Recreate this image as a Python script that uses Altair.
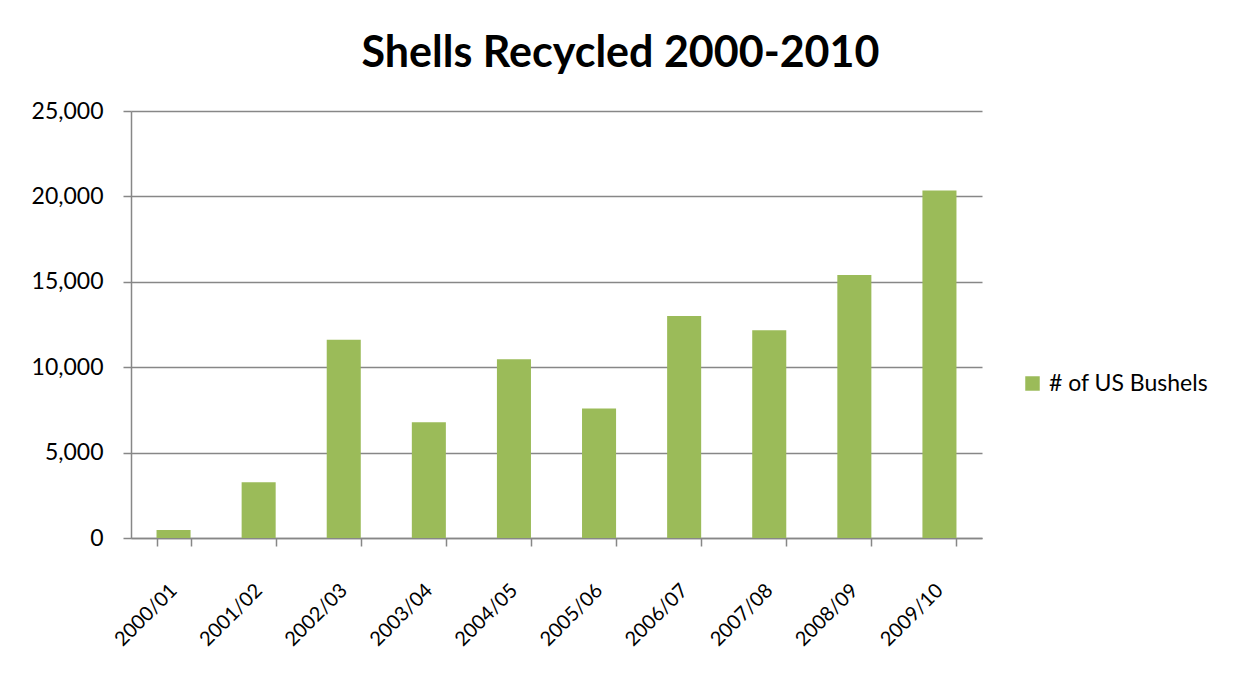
import altair as alt
import pandas as pd

seasons = ["2000/01", "2001/02", "2002/03", "2003/04", "2004/05",
           "2005/06", "2006/07", "2007/08", "2008/09", "2009/10"]
bushels = [470, 3260, 11600, 6780, 10470, 7580, 13000, 12170, 15400, 20350]
series_name = "# of US Bushels"
y_ticks = [0, 5000, 10000, 15000, 20000, 25000]

df = pd.DataFrame({"season": seasons, "value": bushels, "series": [series_name] * len(seasons)})

FONT = "Lato"
GRID = "#878787"
FS = 23

bars = alt.Chart(df).mark_bar(color="#9BBB59").encode(
    x=alt.X("season:N", sort=seasons, title=None,
            scale=alt.Scale(paddingInner=0.6, paddingOuter=0.3),
            axis=alt.Axis(labelAngle=-45, labelAlign="right", labelBaseline="middle",
                          labelFontSize=20, labelFont=FONT, labelColor="black",
                          labelPadding=41, tickBand="extent", tickSize=8,
                          tickColor=GRID, domainColor=GRID, domainWidth=1.5, tickWidth=1.5,
                          grid=False)),
    y=alt.Y("value:Q", title=None,
            scale=alt.Scale(domain=[0, 25000], nice=False),
            axis=alt.Axis(values=y_ticks, format=",.0f", labelFontSize=FS, labelFont=FONT,
                          labelColor="black", labelPadding=20, tickSize=8,
                          tickColor=GRID, domainColor=GRID, domainWidth=1.5, tickWidth=1.5,
                          grid=True, gridColor=GRID, gridWidth=1.5)),
    color=alt.Color("series:N", title=None,
                    scale=alt.Scale(domain=[series_name], range=["#9BBB59"]),
                    legend=alt.Legend(orient="none", legendX=890, legendY=261, padding=0,
                                      symbolType="square", symbolSize=210,
                                      symbolStrokeWidth=0, labelFontSize=FS,
                                      labelFont=FONT, labelColor="black", labelOffset=5)),
)

chart = bars.properties(
    width=851,
    height=427,
    background="white",
    title=alt.TitleParams("Shells Recycled 2000-2010", font=FONT, fontSize=43,
                          fontWeight="bold", color="black", anchor="middle",
                          frame="group", dx=64, offset=24),
    autosize=alt.AutoSizeParams(type="none"),
    padding={"left": 123, "top": 103, "right": 248, "bottom": 132},
).configure_view(stroke=None)

chart.save("out.html", embed_options={"renderer": "svg", "actions": False})
